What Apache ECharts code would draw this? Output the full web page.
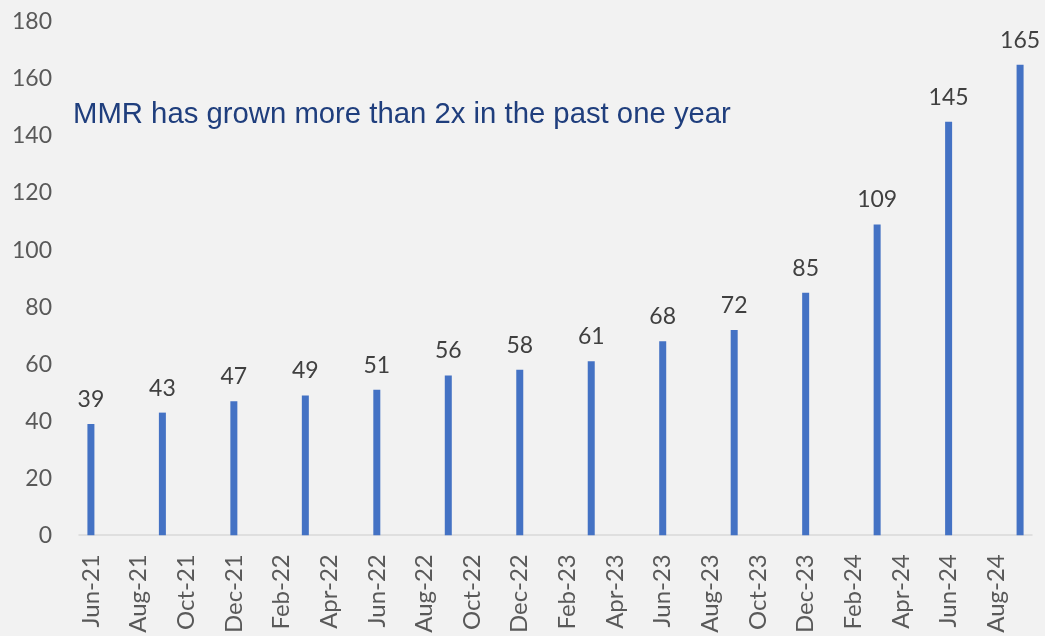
<!DOCTYPE html>
<html>
<head>
<meta charset="utf-8">
<style>
  html, body { margin: 0; padding: 0; background: #F2F2F2; }
  #chart { width: 1045px; height: 636px; }
</style>
<script src="https://cdn.jsdelivr.net/npm/echarts@6/dist/echarts.min.js"></script>
</head>
<body>
<div id="chart"></div>
<script>
// Monthly date axis, Jun-21 to Sep-24
const months = [
  'Jun-21','Jul-21','Aug-21','Sep-21','Oct-21','Nov-21','Dec-21',
  'Jan-22','Feb-22','Mar-22','Apr-22','May-22','Jun-22','Jul-22','Aug-22','Sep-22','Oct-22','Nov-22','Dec-22',
  'Jan-23','Feb-23','Mar-23','Apr-23','May-23','Jun-23','Jul-23','Aug-23','Sep-23','Oct-23','Nov-23','Dec-23',
  'Jan-24','Feb-24','Mar-24','Apr-24','May-24','Jun-24','Jul-24','Aug-24','Sep-24'
];

// Quarterly MMR readings
const barMonths = ['Jun-21','Sep-21','Dec-21','Mar-22','Jun-22','Sep-22','Dec-22','Mar-23','Jun-23','Sep-23','Dec-23','Mar-24','Jun-24','Sep-24'];
const mmr = [39, 43, 47, 49, 51, 56, 58, 61, 68, 72, 85, 109, 145, 165];

const yTicks = { min: 0, max: 180, interval: 20 };
const note = 'MMR has grown more than 2x in the past one year';

const chart = echarts.init(document.getElementById('chart'));
chart.setOption({
  backgroundColor: '#F2F2F2',
  animation: false,
  grid: { left: 79, right: 13, top: 22, bottom: 100 },
  xAxis: {
    type: 'category',
    data: months,
    boundaryGap: true,
    axisLine: { lineStyle: { color: '#D9D9D9', width: 1.5 } },
    axisTick: { interval: 1, length: 8, lineStyle: { color: '#D9D9D9', width: 1.5 } },
    axisLabel: {
      interval: 1,
      rotate: 90,
      margin: 19,
      color: '#595959',
      fontFamily: 'Lato',
      fontSize: 24
    },
    splitLine: { show: false }
  },
  yAxis: {
    type: 'value',
    min: yTicks.min,
    max: yTicks.max,
    interval: yTicks.interval,
    axisLine: { show: false },
    axisTick: { show: false },
    splitLine: { show: false },
    axisLabel: { color: '#595959', fontFamily: 'Lato', fontSize: 23, margin: 27 }
  },
  series: [{
    type: 'bar',
    data: barMonths.map((m, i) => [m, mmr[i]]),
    barWidth: 7,
    itemStyle: { color: '#4472C4' },
    label: {
      show: true,
      position: 'top',
      distance: 13,
      color: '#404040',
      fontFamily: 'Lato',
      fontSize: 23,
      formatter: p => p.value[1]
    }
  }],
  graphic: [{
    type: 'text',
    left: 73,
    top: 100,
    style: {
      text: note,
      fill: '#1F3E7D',
      font: '29.3px "Liberation Sans", Arial, sans-serif'
    }
  }]
});
</script>
</body>
</html>
